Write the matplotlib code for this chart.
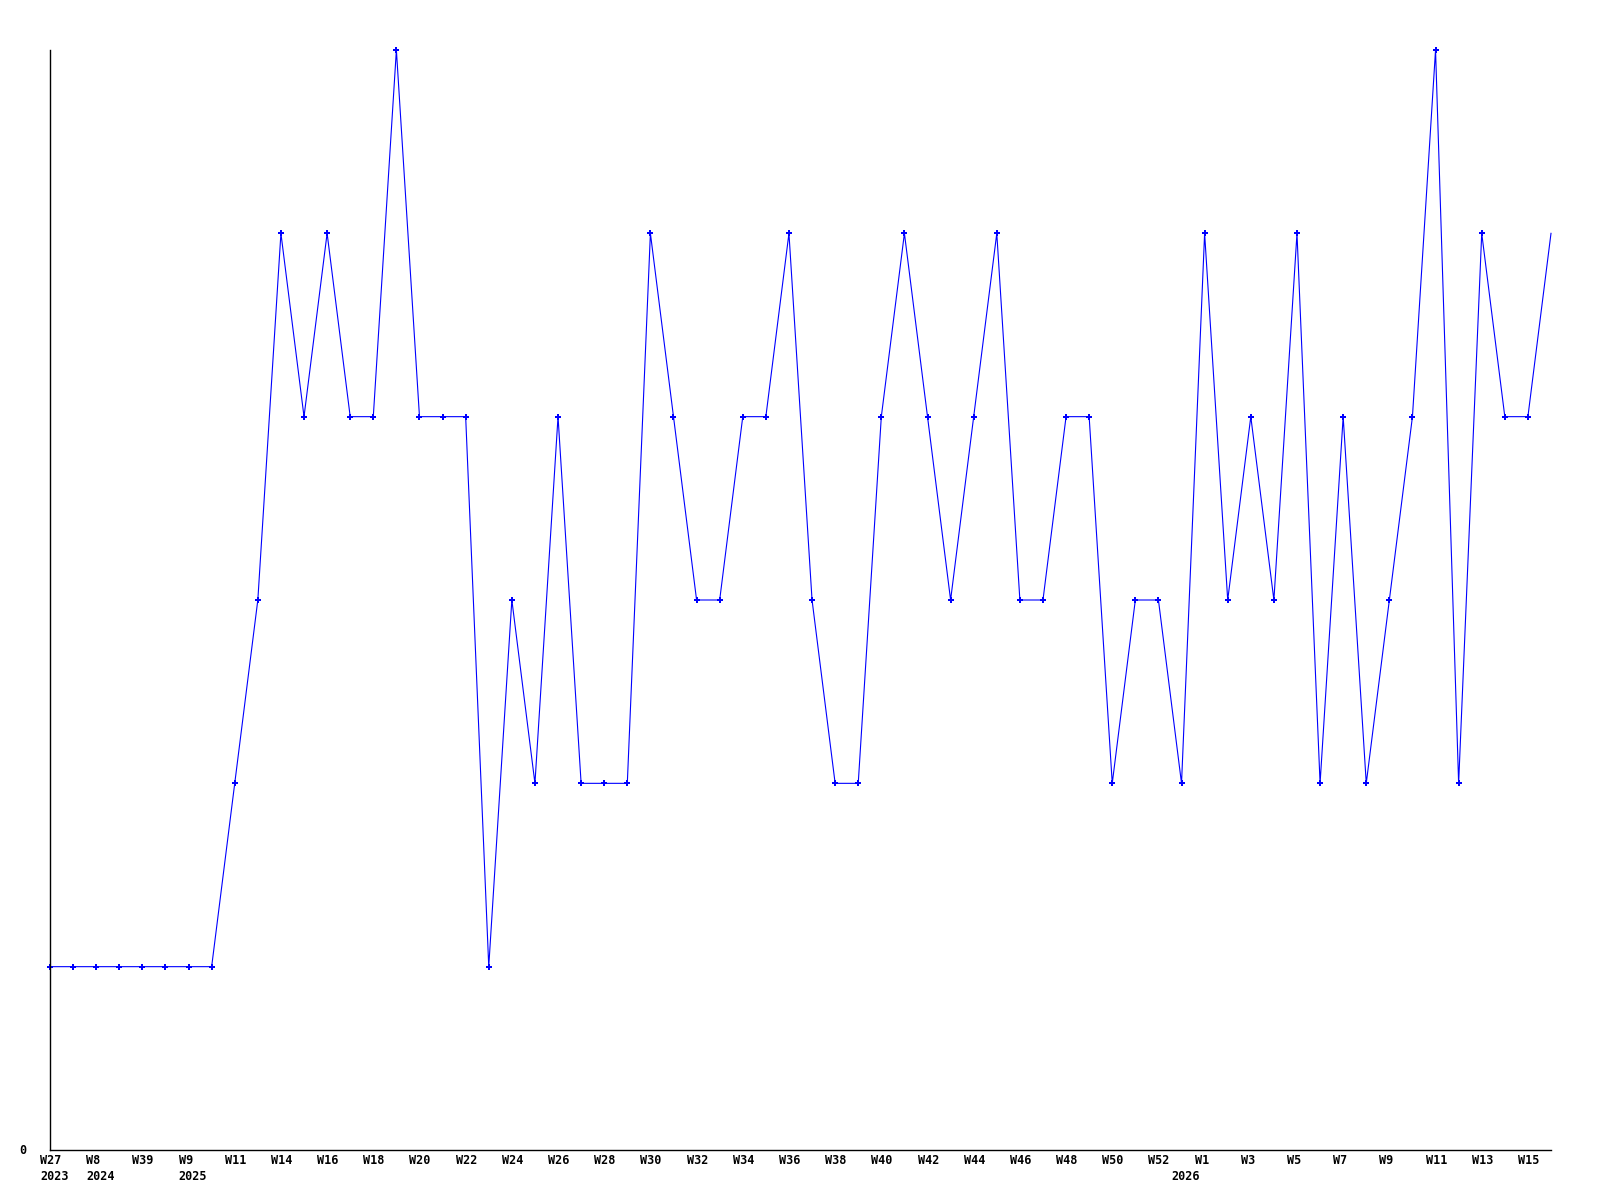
import matplotlib
matplotlib.use("Agg")
import matplotlib.pyplot as plt
import matplotlib.transforms as mtransforms

# valores semanales (66 puntos)
valores = [1, 1, 1, 1, 1, 1, 1, 1, 2, 3, 5, 4, 5, 4, 4, 6, 4, 4, 4, 1,
           3, 2, 4, 2, 2, 2, 5, 4, 3, 3, 4, 4, 5, 3, 2, 2, 4, 5, 4, 3,
           4, 5, 3, 3, 4, 4, 2, 3, 3, 2, 5, 3, 4, 3, 5, 2, 4, 2, 3, 4,
           6, 2, 5, 4, 4, 5]

# etiquetas del eje x (solo las visibles)
semanas_idx = [0, 2, 4, 6, 8, 10, 12, 14, 16, 18, 20, 22, 24, 26, 28, 30, 32,
               34, 36, 38, 40, 42, 44, 46, 48, 50, 52, 54, 56, 58, 60, 62, 64]
semanas = ['W27', 'W8', 'W39', 'W9', 'W11', 'W14', 'W16', 'W18', 'W20', 'W22',
           'W24', 'W26', 'W28', 'W30', 'W32', 'W34', 'W36', 'W38', 'W40', 'W42',
           'W44', 'W46', 'W48', 'W50', 'W52', 'W1', 'W3', 'W5', 'W7', 'W9',
           'W11', 'W13', 'W15']
anios_idx = [0, 2, 6, 49]
anios = ['2023', '2024', '2025', '2026']

fig = plt.figure(figsize=(16, 12), dpi=100)
ax = fig.add_axes([50 / 1600, 50 / 1200, 1501 / 1600, 1100 / 1200])

x = list(range(len(valores)))
ax.plot(x, valores, color='#0000ff', linewidth=0.8, marker='P',
        markersize=4.2, markeredgewidth=0, clip_on=False,
        markevery=list(range(len(valores) - 1)))

ax.set_xlim(0, len(valores) - 1)
ax.set_ylim(0, 6)
ax.spines['top'].set_visible(False)
ax.spines['right'].set_visible(False)
for s in ['left', 'bottom']:
    ax.spines[s].set_linewidth(1.0)
    ax.spines[s].set_color('black')
ax.set_xticks([])
ax.set_yticks([])

fuente = dict(family='DejaVu Sans Mono', fontweight='bold', fontsize=8.5)
trans = ax.get_xaxis_transform()
t_sem = mtransforms.offset_copy(trans, fig=fig, x=-10, y=-11, units='dots')
t_anio = mtransforms.offset_copy(trans, fig=fig, x=-10, y=-27, units='dots')
for i, lab in zip(semanas_idx, semanas):
    ax.text(i, 0, lab, transform=t_sem, ha='left', va='center', **fuente)
for i, lab in zip(anios_idx, anios):
    ax.text(i, 0, lab, transform=t_anio, ha='left', va='center', **fuente)

t_cero = mtransforms.offset_copy(ax.transData, fig=fig, x=-24, y=0, units='dots')
ax.text(0, 0, '0', transform=t_cero, ha='right', va='center', **fuente)

fig.savefig('out.png', dpi=100)
